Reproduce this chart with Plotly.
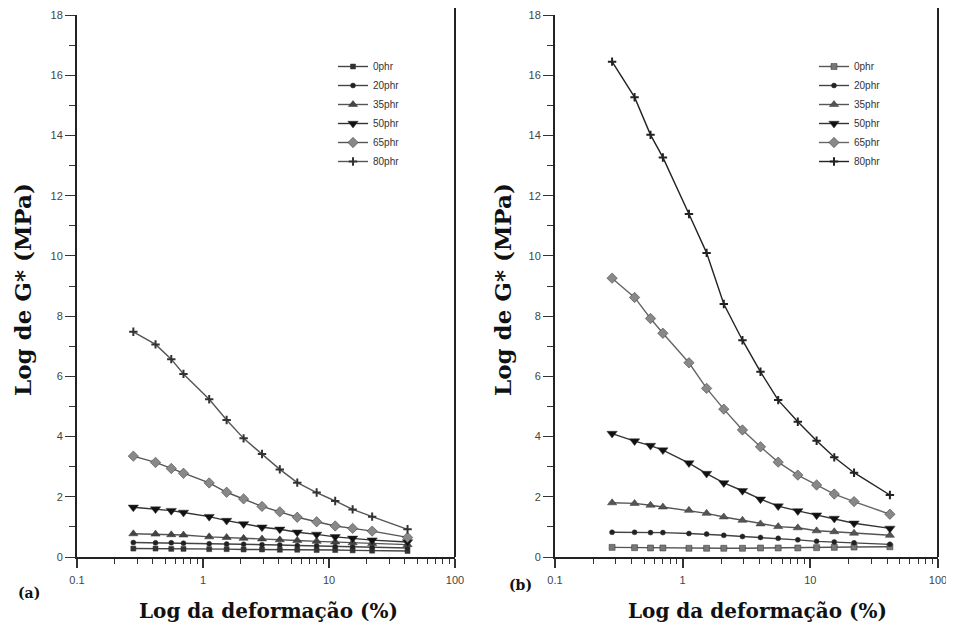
import plotly.graph_objects as go

W, H = 954, 630
OFF = 8  # page offset of the figure inside the browser window

# strain (%) values, shared by both panels
strain = [0.28, 0.42, 0.56, 0.70, 1.12, 1.54, 2.1, 2.94, 4.07, 5.6, 7.98, 11.2, 15.4, 22, 42]

series_names = ["0phr", "20phr", "35phr", "50phr", "65phr", "80phr"]

# panel (a)
a_0phr = [0.28, 0.28, 0.27, 0.27, 0.26, 0.26, 0.25, 0.25, 0.24, 0.24, 0.23, 0.23, 0.22, 0.21, 0.20]
a_20phr = [0.48, 0.47, 0.47, 0.46, 0.44, 0.43, 0.42, 0.41, 0.40, 0.38, 0.37, 0.35, 0.34, 0.32, 0.30]
a_35phr = [0.77, 0.76, 0.74, 0.73, 0.67, 0.65, 0.62, 0.60, 0.57, 0.55, 0.52, 0.50, 0.47, 0.45, 0.41]
a_50phr = [1.65, 1.59, 1.54, 1.48, 1.34, 1.21, 1.10, 0.99, 0.92, 0.82, 0.75, 0.67, 0.62, 0.56, 0.50]
a_65phr = [3.35, 3.14, 2.94, 2.78, 2.46, 2.15, 1.93, 1.68, 1.50, 1.32, 1.17, 1.03, 0.95, 0.86, 0.65]
a_80phr = [7.48, 7.06, 6.57, 6.08, 5.24, 4.55, 3.94, 3.42, 2.91, 2.47, 2.14, 1.86, 1.58, 1.34, 0.92]

# panel (b)
b_0phr = [0.32, 0.31, 0.30, 0.30, 0.29, 0.29, 0.29, 0.29, 0.30, 0.30, 0.30, 0.31, 0.32, 0.33, 0.34]
b_20phr = [0.82, 0.82, 0.81, 0.81, 0.78, 0.76, 0.72, 0.68, 0.65, 0.62, 0.57, 0.52, 0.50, 0.47, 0.42]
b_35phr = [1.80, 1.78, 1.72, 1.66, 1.55, 1.45, 1.33, 1.22, 1.10, 1.01, 0.97, 0.87, 0.84, 0.79, 0.72]
b_50phr = [4.10, 3.85, 3.70, 3.55, 3.12, 2.77, 2.46, 2.20, 1.92, 1.69, 1.53, 1.39, 1.28, 1.12, 0.95]
b_65phr = [9.26, 8.62, 7.92, 7.43, 6.45, 5.60, 4.91, 4.22, 3.66, 3.15, 2.72, 2.39, 2.09, 1.84, 1.42]
b_80phr = [16.45, 15.27, 14.02, 13.27, 11.39, 10.1, 8.40, 7.2, 6.15, 5.21, 4.49, 3.86, 3.31, 2.80, 2.06]

x_tick_vals = [0.1, 1, 10, 100]
x_tick_text = ["0.1", "1", "10", "100"]

styles_a = {
    "0phr": dict(symbol="square", size=5, mcolor="#333333", lcolor="#444444"),
    "20phr": dict(symbol="circle", size=5, mcolor="#222222", lcolor="#444444"),
    "35phr": dict(symbol="triangle-up", size=8, mcolor="#444444", lcolor="#555555"),
    "50phr": dict(symbol="triangle-down", size=9, mcolor="#111111", lcolor="#333333"),
    "65phr": dict(symbol="diamond", size=8, mcolor="#888888", lcolor="#555555"),
    "80phr": dict(symbol="cross-thin", size=6, mcolor="#333333", lcolor="#555555"),
}
styles_b = {
    "0phr": dict(symbol="square", size=6, mcolor="#777777", lcolor="#555555"),
    "20phr": dict(symbol="circle", size=5, mcolor="#222222", lcolor="#444444"),
    "35phr": dict(symbol="triangle-up", size=8, mcolor="#555555", lcolor="#555555"),
    "50phr": dict(symbol="triangle-down", size=9, mcolor="#111111", lcolor="#333333"),
    "65phr": dict(symbol="diamond", size=8, mcolor="#888888", lcolor="#666666"),
    "80phr": dict(symbol="cross-thin", size=6, mcolor="#222222", lcolor="#222222"),
}

data_a = [a_0phr, a_20phr, a_35phr, a_50phr, a_65phr, a_80phr]
data_b = [b_0phr, b_20phr, b_35phr, b_50phr, b_65phr, b_80phr]

fig = go.Figure()

def add_series(names, datas, styles, xa, ya, leg):
    for name, ys in zip(names, datas):
        s = styles[name]
        thin = s["symbol"] == "cross-thin"
        fig.add_trace(go.Scatter(
            x=strain, y=ys, name=name, mode="lines+markers",
            xaxis=xa, yaxis=ya, legend=leg,
            line=dict(color=s["lcolor"], width=1.4),
            marker=dict(symbol=s["symbol"], size=s["size"], color=s["mcolor"],
                        line=dict(width=2 if thin else 0.5, color=s["mcolor"] if thin else "#333333")),
        ))

add_series(series_names, data_a, styles_a, "x", "y", "legend")
add_series(series_names, data_b, styles_b, "x2", "y2", "legend2")

def px(xp):
    return (xp - OFF) / W

def py(yp):
    return 1 - (yp - OFF) / H

tick_font = dict(family="Liberation Sans, Arial, sans-serif", size=11, color="#444444")

def xaxis_cfg(domain, anchor):
    return dict(
        type="log", range=[-1, 2], domain=domain, anchor=anchor,
        tickmode="array", tickvals=x_tick_vals, ticktext=x_tick_text,
        ticks="outside", ticklen=9, tickwidth=1.5, tickcolor="#333333",
        minor=dict(ticks="outside", ticklen=5, tickwidth=1.3, tickcolor="#333333",
                   dtick="D1", showgrid=False),
        showline=True, linecolor="#222222", linewidth=2, mirror=False,
        showgrid=False, zeroline=False, tickfont=tick_font, ticklabelstandoff=3,
        automargin=False,
    )

def yaxis_cfg(domain, anchor):
    return dict(
        range=[0, 18], domain=domain, anchor=anchor,
        tickmode="linear", tick0=0, dtick=2,
        ticks="outside", ticklen=10, tickwidth=1.3, tickcolor="#333333",
        minor=dict(ticks="outside", ticklen=6, tickwidth=1.3, tickcolor="#333333",
                   dtick=1, showgrid=False),
        showline=True, linecolor="#222222", linewidth=2, mirror=False,
        showgrid=False, zeroline=False, tickfont=tick_font, ticklabelstandoff=0,
        automargin=False,
    )

ydom = [py(557), py(15)]
leg_font = dict(family="Liberation Sans, Arial", size=10, color="#333333")
fig.update_layout(
    width=W, height=H, autosize=False,
    margin=dict(l=0, r=0, t=0, b=0, pad=0, autoexpand=False),
    paper_bgcolor="white", plot_bgcolor="white",
    xaxis=xaxis_cfg([px(77), px(455)], "y"),
    yaxis=yaxis_cfg(ydom, "x"),
    xaxis2=xaxis_cfg([px(555), px(938)], "y2"),
    yaxis2=yaxis_cfg(ydom, "x2"),
    legend=dict(x=px(333), y=py(52), xanchor="left", yanchor="top",
                bgcolor="rgba(0,0,0,0)", font=leg_font, tracegroupgap=0),
    legend2=dict(x=px(814), y=py(52), xanchor="left", yanchor="top",
                 bgcolor="rgba(0,0,0,0)", font=leg_font, tracegroupgap=0),
    showlegend=True,
)

# right borders of the frames
for xr in ("x", "x2"):
    fig.add_shape(type="line", xref=f"{xr} domain", yref="paper",
                  x0=1, x1=1, y0=py(557), y1=py(6),
                  line=dict(color="#222222", width=2))

ytitle_font = dict(family="DejaVu Serif, Liberation Serif, serif", size=23, color="#111111")
xtitle_font = dict(family="DejaVu Serif, Liberation Serif, serif", size=20, color="#111111")
ann = []
for cx in (22, 502):
    ann.append(dict(text="<b>Log de G* (MPa)</b>", x=px(cx), y=py(290), xref="paper", yref="paper",
                    showarrow=False, textangle=-90, font=ytitle_font, xanchor="center", yanchor="middle"))
for cx in (268, 757):
    ann.append(dict(text="<b>Log da deformação (%)</b>", x=px(cx), y=py(611), xref="paper", yref="paper",
                    showarrow=False, font=xtitle_font, xanchor="center", yanchor="middle"))
lab_font = dict(family="DejaVu Serif, Liberation Serif, serif", size=14, color="#111111")
ann.append(dict(text="<b>(a)</b>", x=px(29), y=py(593), xref="paper", yref="paper",
                showarrow=False, font=lab_font, xanchor="center", yanchor="middle"))
ann.append(dict(text="<b>(b)</b>", x=px(520), y=py(585), xref="paper", yref="paper",
                showarrow=False, font=lab_font, xanchor="center", yanchor="middle"))
fig.update_layout(annotations=ann)

fig.write_html("out.html")
